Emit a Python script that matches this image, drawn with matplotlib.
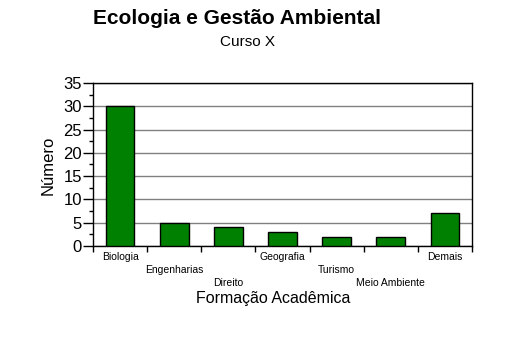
import matplotlib
matplotlib.use("Agg")
import matplotlib.pyplot as plt
import numpy as np
from matplotlib.ticker import MultipleLocator

categories = ["Biologia", "Engenharias", "Direito", "Geografia", "Turismo", "Meio Ambiente", "Demais"]
values = [30, 5, 4, 3, 2, 2, 7]
yticks = [0, 5, 10, 15, 20, 25, 30, 35]

plt.rcParams['font.family'] = ['Liberation Sans', 'DejaVu Sans']

fig = plt.figure(figsize=(5.05, 3.55), dpi=100)
ax = fig.add_axes([93/505, 1-246/355, (472-93)/505, (246-83)/355])

x = np.arange(len(categories))
ax.bar(x, values, width=0.53, color="#008000", edgecolor="black", linewidth=1, zorder=3)
ax.set_xlim(-0.5, len(categories) - 0.5)
ax.set_ylim(0, 35)
ax.set_yticks(yticks)
ax.yaxis.set_minor_locator(MultipleLocator(2.5))
ax.grid(axis='y', which='major', color='#808080', linewidth=1, zorder=0)
ax.tick_params(axis='y', which='major', length=7, width=1, labelsize=12, pad=1, direction='out')
ax.tick_params(axis='y', which='minor', length=3, width=1)

# category boundary ticks
ax.set_xticks(np.arange(-0.5, len(categories) + 0.5, 1))
ax.set_xticklabels([])
ax.tick_params(axis='x', length=4, width=1, direction='out')
for s in ax.spines.values():
    s.set_linewidth(1)
    s.set_color('black')

# staggered category labels
for i, c in enumerate(categories):
    level = i % 3
    ax.annotate(c, xy=(i, 0), xycoords=('data', 'axes fraction'),
                xytext=(0, -6 - level * 13), textcoords='offset pixels',
                ha='center', va='top', fontsize=7.5)

fig.text(273/505, 1-298/355, "Formação Acadêmica", ha='center', va='center', fontsize=11.5)
fig.text(48/505, 1-165/355, "Número", ha='center', va='center', fontsize=12, rotation=90)
fig.text(237/505, 1-18/355, "Ecologia e Gestão Ambiental", ha='center', va='center', fontsize=15, fontweight='bold')
fig.text(248/505, 1-42/355, "Curso X", ha='center', va='center', fontsize=11)

fig.savefig("out.png", dpi=100)
